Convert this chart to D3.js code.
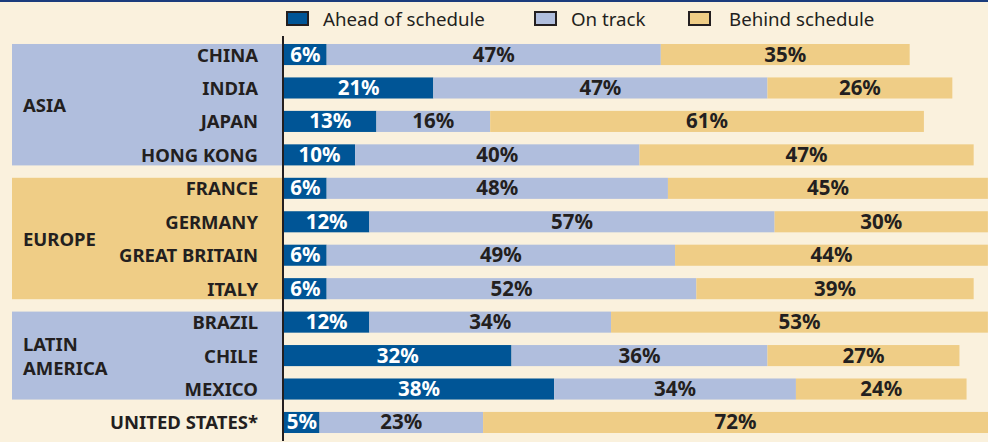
<!DOCTYPE html>
<html>
  <head>
    <meta charset="utf-8" />
    <script src="https://d3js.org/d3.v7.min.js"></script>
    <style>
      body {
        margin: 0;
        background: #faf1dd;
        font-family: "Noto Sans", "Open Sans", sans-serif;
      }
    </style>
  </head>
  <body>
    <script>
      // data
      var countries = [
        "CHINA", "INDIA", "JAPAN", "HONG KONG",
        "FRANCE", "GERMANY", "GREAT BRITAIN", "ITALY",
        "BRAZIL", "CHILE", "MEXICO", "UNITED STATES*"
      ];
      var ahead = [6, 21, 13, 10, 6, 12, 6, 6, 12, 32, 38, 5];
      var onTrack = [47, 47, 16, 40, 48, 57, 49, 52, 34, 36, 34, 23];
      var behind = [35, 26, 61, 47, 45, 30, 44, 39, 53, 27, 24, 72];
      var seriesNames = ["Ahead of schedule", "On track", "Behind schedule"];
      var groups = [
        { name: ["ASIA"], from: "CHINA", to: "HONG KONG", color: "#b0bedd" },
        { name: ["EUROPE"], from: "FRANCE", to: "ITALY", color: "#efcd86" },
        { name: ["LATIN", "AMERICA"], from: "BRAZIL", to: "MEXICO", color: "#b0bedd" }
      ];

      var colors = ["#005596", "#b0bedd", "#efcd86"];
      var textColors = ["#ffffff", "#231f20", "#231f20"];

      var width = 988, height = 442;

      var svg = d3.select("body").append("svg")
        .attr("width", width)
        .attr("height", height);

      svg.append("rect").attr("width", width).attr("height", height).attr("fill", "#faf1dd");
      // top rule
      svg.append("rect").attr("width", width).attr("height", 2).attr("fill", "#1b3c7c");

      var x = d3.scaleLinear().domain([0, 100]).range([284, 995]);
      var y = d3.scaleBand().domain(countries).range([37.8, 439.2])
        .paddingInner(0.37).paddingOuter(0.185);

      // group panels
      var panel = svg.selectAll(".grp").data(groups).enter().append("g");
      panel.append("rect")
        .attr("x", 12)
        .attr("width", 270)
        .attr("y", function (d) { return y(d.from); })
        .attr("height", function (d) { return y(d.to) + y.bandwidth() - y(d.from); })
        .attr("fill", function (d) { return d.color; });
      panel.append("text")
        .attr("x", 23)
        .attr("y", function (d) {
          var mid = (y(d.from) + y(d.to) + y.bandwidth()) / 2;
          return mid + 7 - (d.name.length - 1) * 12;
        })
        .attr("font-size", 18.5)
        .attr("font-weight", "bold")
        .attr("fill", "#231f20")
        .selectAll("tspan").data(function (d) { return d.name; }).enter().append("tspan")
        .attr("x", 23)
        .attr("dy", function (d, i) { return i ? 24 : 0; })
        .text(function (d) { return d; });

      // stacked rows
      var rows = countries.map(function (c, i) {
        var vals = [ahead[i], onTrack[i], behind[i]];
        var start = 0;
        return vals.map(function (v, k) {
          var seg = { country: c, k: k, v: v, x0: start, x1: start + v };
          start += v;
          return seg;
        });
      });
      var segs = [].concat.apply([], rows);

      svg.selectAll(".seg").data(segs).enter().append("rect")
        .attr("x", function (d) { return x(d.x0); })
        .attr("width", function (d) { return x(d.x1) - x(d.x0); })
        .attr("y", function (d) { return y(d.country); })
        .attr("height", y.bandwidth())
        .attr("fill", function (d) { return colors[d.k]; });

      svg.selectAll(".val").data(segs).enter().append("text")
        .attr("x", function (d) { return (x(d.x0) + Math.min(x(d.x1), width)) / 2; })
        .attr("y", function (d) { return y(d.country) + y.bandwidth() / 2 + 7; })
        .attr("text-anchor", "middle")
        .attr("font-size", 20.5)
        .attr("font-weight", "bold")
        .attr("fill", function (d) { return textColors[d.k]; })
        .text(function (d) { return d.v + "%"; });

      // country labels
      svg.selectAll(".lab").data(countries).enter().append("text")
        .attr("x", 258)
        .attr("y", function (d) { return y(d) + y.bandwidth() / 2 + 7; })
        .attr("text-anchor", "end")
        .attr("font-size", 18.5)
        .attr("font-weight", "bold")
        .attr("fill", "#231f20")
        .text(function (d) { return d; });

      // axis line
      svg.append("line")
        .attr("x1", 283).attr("x2", 283)
        .attr("y1", 36).attr("y2", 441)
        .attr("stroke", "#231f20").attr("stroke-width", 2);

      // legend
      var legX = [286, 534, 688];
      var leg = svg.selectAll(".leg").data(seriesNames).enter().append("g")
        .attr("transform", function (d, i) { return "translate(" + legX[i] + ",0)"; });
      leg.append("rect")
        .attr("x", 1).attr("y", 12).attr("width", 21).attr("height", 13)
        .attr("fill", function (d, i) { return colors[i]; })
        .attr("stroke", "#231f20").attr("stroke-width", 2);
      leg.append("text")
        .attr("x", function (d, i) { return i === 2 ? 41 : 37; })
        .attr("y", 26)
        .attr("font-size", 18.7)
        .attr("fill", "#231f20")
        .text(function (d) { return d; });
    </script>
  </body>
</html>
